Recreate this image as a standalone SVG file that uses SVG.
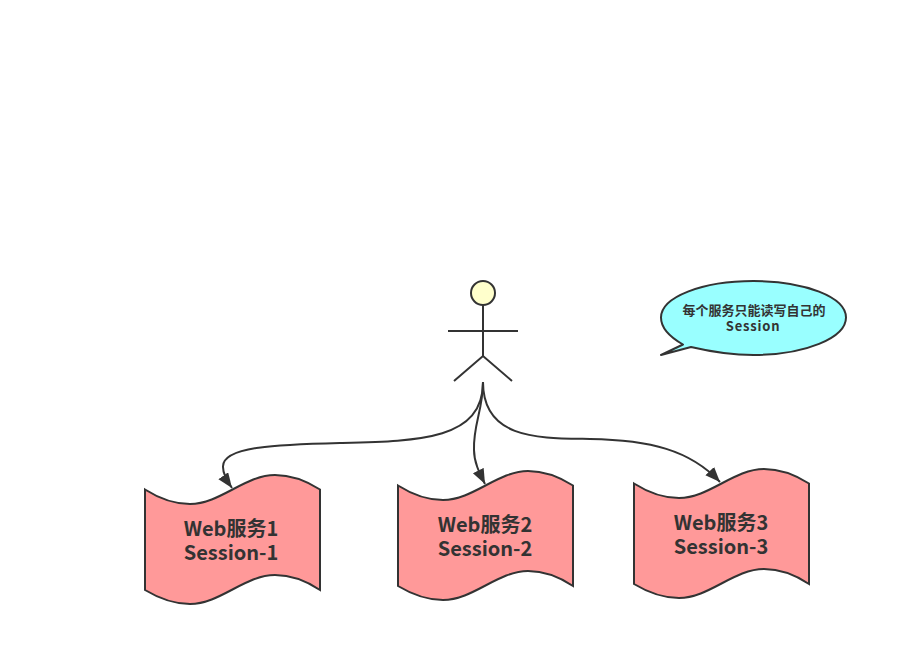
<svg xmlns="http://www.w3.org/2000/svg" xmlns:xlink="http://www.w3.org/1999/xlink" width="908" height="667" viewBox="0 0 908 667">
<style>
.ln{fill:none;stroke:#333;stroke-width:2}
.lbl{font-family:"Noto Sans CJK SC","Noto Sans",sans-serif;font-weight:700;fill:#333;text-anchor:middle;font-size:20px}
.sm{font-family:"Noto Sans CJK SC","Noto Sans",sans-serif;font-weight:700;fill:#333;text-anchor:middle;font-size:13px}
.doc{fill:#ff9999;stroke:#333;stroke-width:2}
</style>
<defs>
<marker id="arr" markerUnits="userSpaceOnUse" markerWidth="16" markerHeight="14" refX="15" refY="6" orient="auto">
<path d="M0 0L15 6L0 12Z" fill="#333"/>
</marker>
<path id="wave" d="M145 489.500C160 499 175 504 190 504C220 504 245 475 275 475C290 475 305 480 320 489.500L320 590C305 580 290 575 275 575C245 575 220 604 190 604C175 604 160 599 145 590Z"/>
</defs>
<rect width="908" height="667" fill="#fff"/>
<g id="connectors">
<path class="ln" marker-end="url(#arr)" d="M483 382C483 440 420 441 340 443C280 444.500 222 446 223 467C223 473 227 481 232 488"/>
<path class="ln" marker-end="url(#arr)" d="M483 382C483 410 473 425 474 450C474 462 479 472 485 484"/>
<path class="ln" marker-end="url(#arr)" d="M483 382C483 440 540 438 590 439C650 440 690 450 720 482"/>
</g>
<g id="actor">
<circle cx="483" cy="293" r="12" fill="#ffffcc" stroke="#333" stroke-width="2"/>
<path class="ln" d="M483 305V356M448 331H518M454 381L483 356L512 381"/>
</g>
<g id="note">
<path d="M661 355L683 344.500C668 336 661 327 661 317.500C661 297 702 281 753.500 281C805 281 846 297 846 317.500C846 338 805 355 753.500 355C730 355 708 351 691 347Z" fill="#99ffff" stroke="#333" stroke-width="2" stroke-linejoin="round"/>
<text class="sm" x="754" y="315">每个服务只能读写自己的<tspan x="753" y="331" letter-spacing="0.8">Session</tspan></text>
</g>
<g id="web1">
<use xlink:href="#wave" class="doc"/>
<text class="lbl" x="231" y="536">Web服务1<tspan x="231" y="560">Session-1</tspan></text>
</g>
<g id="web2">
<use xlink:href="#wave" class="doc" transform="translate(253,-4)"/>
<text class="lbl" x="485" y="532">Web服务2<tspan x="485" y="556">Session-2</tspan></text>
</g>
<g id="web3">
<use xlink:href="#wave" class="doc" transform="translate(489,-6)"/>
<text class="lbl" x="721" y="530">Web服务3<tspan x="721" y="554">Session-3</tspan></text>
</g>
</svg>
